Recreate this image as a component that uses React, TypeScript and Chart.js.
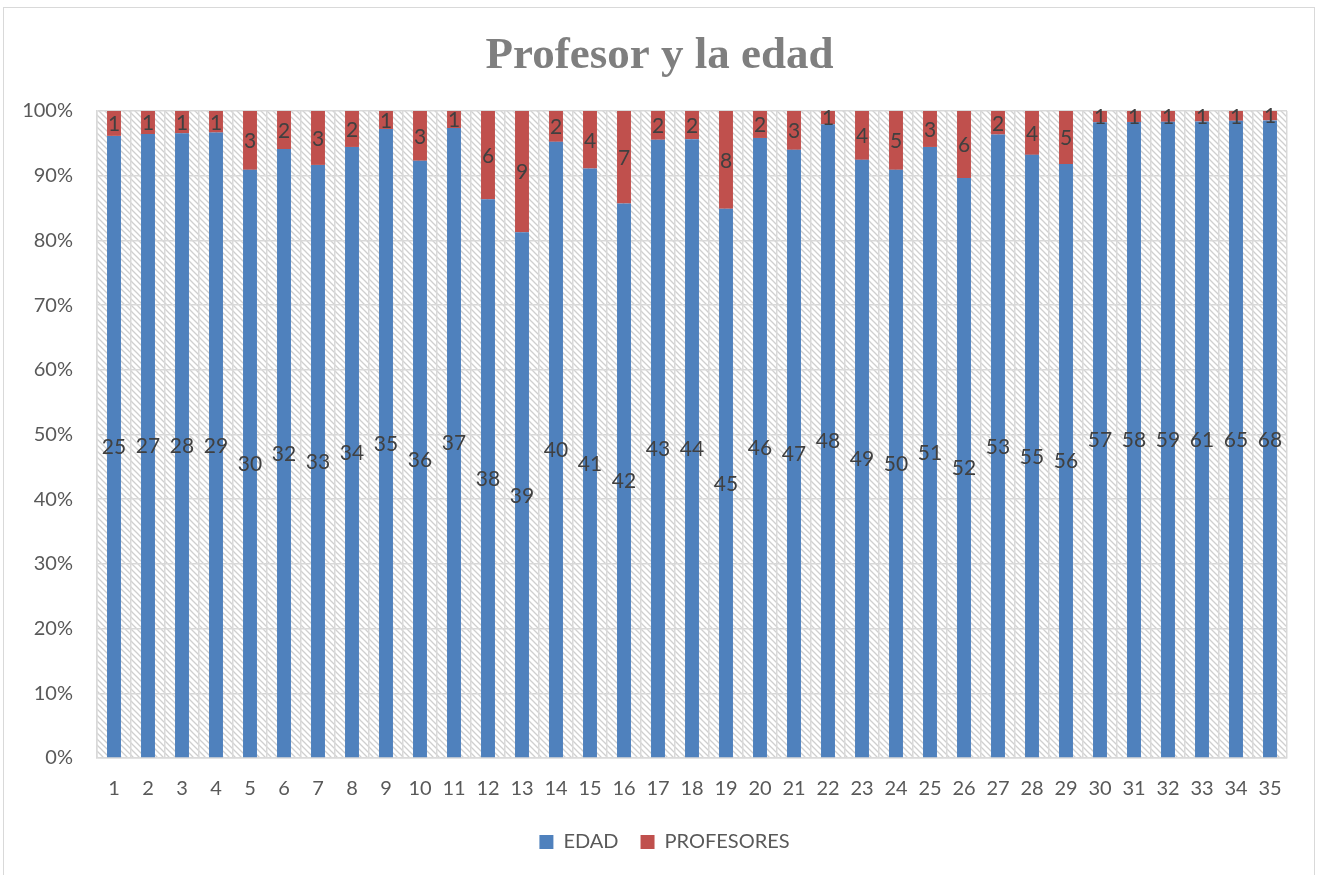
import React, { useEffect, useRef } from "react";
import { Chart, registerables } from "chart.js";

Chart.register(...registerables);

const categories = [
  "1", "2", "3", "4", "5", "6", "7", "8", "9", "10",
  "11", "12", "13", "14", "15", "16", "17", "18", "19", "20",
  "21", "22", "23", "24", "25", "26", "27", "28", "29", "30",
  "31", "32", "33", "34", "35",
];
const edad = [
  25, 27, 28, 29, 30, 32, 33, 34, 35, 36,
  37, 38, 39, 40, 41, 42, 43, 44, 45, 46,
  47, 48, 49, 50, 51, 52, 53, 55, 56, 57,
  58, 59, 61, 65, 68,
];
const profesores = [
  1, 1, 1, 1, 3, 2, 3, 2, 1, 3,
  1, 6, 9, 2, 4, 7, 2, 2, 8, 2,
  3, 1, 4, 5, 3, 6, 2, 4, 5, 1,
  1, 1, 1, 1, 1,
];
const yTicks = [0, 10, 20, 30, 40, 50, 60, 70, 80, 90, 100];

const FONT = "Lato, 'Open Sans', sans-serif";

function makePattern(): CanvasPattern | string {
  const c = document.createElement("canvas");
  c.width = 6;
  c.height = 6;
  const g = c.getContext("2d");
  if (!g) return "#ffffff";
  g.fillStyle = "#ffffff";
  g.fillRect(0, 0, 6, 6);
  g.strokeStyle = "#cfcfcf";
  g.lineWidth = 1.3;
  g.beginPath();
  g.moveTo(-1, -1);
  g.lineTo(7, 7);
  g.moveTo(-4, 2);
  g.lineTo(4, 10);
  g.moveTo(2, -4);
  g.lineTo(10, 4);
  g.stroke();
  const p = g.createPattern(c, "repeat");
  return p || "#ffffff";
}

const bgPlugin = {
  id: "hatchBg",
  beforeDraw(chart: any) {
    const { ctx, chartArea } = chart;
    ctx.save();
    ctx.fillStyle = makePattern();
    ctx.fillRect(chartArea.left, chartArea.top, chartArea.right - chartArea.left, chartArea.bottom - chartArea.top);
    ctx.restore();
  },
};

// shift legend and title horizontally to match the reference's centring
const shiftPlugin = {
  id: "shiftBoxes",
  afterLayout(chart: any) {
    const lg = chart.legend;
    if (lg) {
      lg.left += 21;
      lg.right += 21;
      if (typeof lg.adjustHitBoxes === "function") lg.adjustHitBoxes();
    }
    const tt = chart.titleBlock;
    if (tt) {
      tt.left += 16;
      tt.right += 16;
    }
  },
};

const rawSeries = [edad, profesores];

const labelPlugin = {
  id: "segLabels",
  afterDatasetsDraw(chart: any) {
    const { ctx } = chart;
    ctx.save();
    ctx.font = `21px ${FONT}`;
    ctx.fillStyle = "#404040";
    ctx.textAlign = "center";
    ctx.textBaseline = "middle";
    chart.data.datasets.forEach((_ds: any, di: number) => {
      const meta = chart.getDatasetMeta(di);
      meta.data.forEach((el: any, i: number) => {
        const cy = (el.y + el.base) / 2;
        ctx.fillText(String(rawSeries[di][i]), el.x, cy + 1);
      });
    });
    ctx.restore();
  },
};

export default function App() {
  const ref = useRef<HTMLCanvasElement | null>(null);
  useEffect(() => {
    if (!ref.current) return;
    const totals = edad.map((v, i) => v + profesores[i]);
    const pctE = edad.map((v, i) => (v / totals[i]) * 100);
    const pctP = profesores.map((v, i) => (v / totals[i]) * 100);
    const chart = new Chart(ref.current, {
      type: "bar",
      data: {
        labels: categories,
        datasets: [
          {
            label: "EDAD",
            data: pctE,
            backgroundColor: "#4f81bd",
            borderWidth: 0,
            barPercentage: 0.41,
            categoryPercentage: 1,
          },
          {
            label: "PROFESORES",
            data: pctP,
            backgroundColor: "#c0504d",
            borderWidth: 0,
            barPercentage: 0.41,
            categoryPercentage: 1,
          },
        ],
      },
      options: {
        animation: false,
        responsive: false,
        maintainAspectRatio: false,
        layout: { padding: { left: 0, right: 32, top: 0, bottom: 13 } },
        plugins: {
          title: {
            display: true,
            text: "Profesor y la edad",
            color: "#7f7f7f",
            font: { family: "'Liberation Serif', serif", size: 45, weight: "bold", lineHeight: 1.2 },
            padding: { top: 29, bottom: 28 },
          },
          legend: {
            position: "bottom",
            labels: {
              boxWidth: 14,
              boxHeight: 14,
              padding: 22,
              color: "#595959",
              font: { family: FONT, size: 20 },
            },
          },
          tooltip: { enabled: false },
        },
        scales: {
          x: {
            stacked: true,
            grid: { color: "#d9d9d9", lineWidth: 1.5, drawTicks: false, offset: true },
            border: { color: "#d9d9d9", width: 1.5 },
            ticks: { color: "#595959", padding: 19, font: { family: FONT, size: 20 }, maxRotation: 0, autoSkip: false },
            afterFit: (scale: any) => {
              scale.height = 52;
            },
          },
          y: {
            stacked: true,
            min: 0,
            max: 100,
            afterBuildTicks: (scale: any) => {
              scale.ticks = yTicks.map((v) => ({ value: v }));
            },
            grid: { color: "#d9d9d9", lineWidth: 1.5, drawTicks: false },
            border: { color: "#d9d9d9", width: 1.5 },
            ticks: {
              color: "#595959",
              padding: 24,
              font: { family: FONT, size: 20 },
              callback: (v: any) => `${v}%`,
            },
            afterFit: (scale: any) => {
              scale.width = 97;
            },
          },
        },
      },
      plugins: [bgPlugin, labelPlugin, shiftPlugin],
    } as any);
    return () => chart.destroy();
  }, []);

  return (
    <div style={{ position: "fixed", left: 0, top: 0, width: 1319, height: 875, background: "#fff", overflow: "hidden" }}>
      <div
        style={{
          position: "absolute",
          left: 3,
          top: 7,
          width: 1312,
          height: 900,
          border: "1px solid #d9d9d9",
          boxSizing: "border-box",
        }}
      />
      <canvas ref={ref} width={1319} height={875} style={{ position: "absolute", left: 0, top: 0 }} />
    </div>
  );
}
